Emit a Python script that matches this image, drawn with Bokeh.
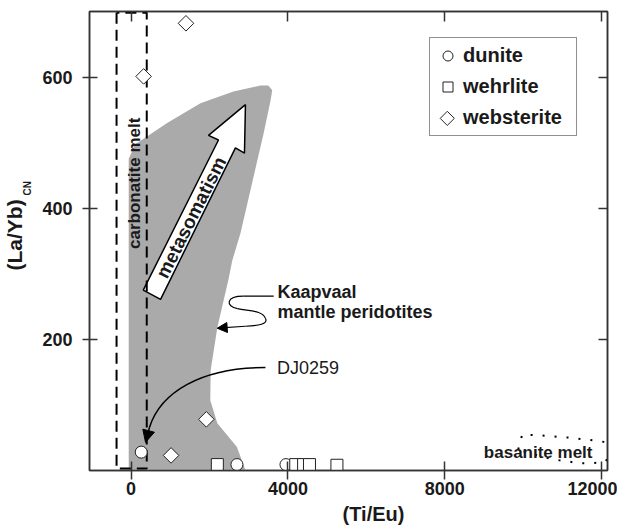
import math
from bokeh.plotting import figure
from bokeh.models import (Range1d, LinearAxis, FixedTicker, Legend, LegendItem,
                          Label, Arrow, NormalHead, Title)
from bokeh.embed import file_html
from bokeh.resources import INLINE

# ---------------- data ----------------
dunite_x = [260, 2700, 3950]
dunite_y = [28, 9, 9]
wehrlite_x = [2200, 4200, 4400, 4550, 5250]
wehrlite_y = [9, 9, 9, 9, 8]
websterite_x = [1400, 320, 1920, 1020]
websterite_y = [682, 601, 78, 23]

# Kaapvaal mantle peridotite field
kaap_x = [-60, -60, 100, 320, 920, 1770, 2610, 3300, 3500, 3600, 3560, 3380, 3120,
          2790, 2580, 2480, 2200, 2030, 2020, 2200, 2700, 2920]
kaap_y = [0, 475, 497, 506, 530, 560, 578, 587, 587, 580, 565, 514, 447,
          362, 320, 290, 218, 153, 107, 72, 36, 0]

# carbonatite melt field (dashed)
carb_x = [-370, -370, 400, 400, -370]
carb_y = [698, 3, 3, 698, 698]

# basanite melt field (dotted)
bas_x = [9873, 9975, 10560, 11197, 11783, 12140, 12471, 12038, 11452, 10764, 10178, 9873]
bas_y = [32, 55, 53, 50, 46, 43, 31, 12, 11, 17, 26, 32]

# metasomatism block arrow
meta_x = [311, 2229, 1975, 2917, 2892, 2662, 752]
meta_y = [275, 504, 511, 558, 484, 492, 261]

x_ticks = [0, 4000, 8000, 12000]
y_ticks = [200, 400, 600]

FONT = "Liberation Sans"
DARK = "#1a1a1a"
NBSP = "\u00a0"

p = figure(width=617, height=529, output_backend="svg", toolbar_location=None,
           x_range=Range1d(-1060, 12150), y_range=Range1d(0, 700),
           min_border_left=89, min_border_right=10, min_border_top=11,
           min_border_bottom=59, x_axis_location=None, y_axis_location=None)
p.grid.visible = False
p.outline_line_color = "#333333"
p.outline_line_width = 1.5
p.background_fill_color = "white"
p.border_fill_color = "white"


def make_axis(ticks, labels, tin, tout, standoff):
    ax = LinearAxis(ticker=FixedTicker(ticks=ticks))
    ax.axis_line_color = "#333333"
    ax.axis_line_width = 1.5
    ax.major_tick_line_color = "#333333"
    ax.major_tick_line_width = 1.5
    ax.major_tick_in = tin
    ax.major_tick_out = tout
    ax.minor_tick_line_color = None
    if labels:
        ax.major_label_text_font = FONT
        ax.major_label_text_font_style = "bold"
        ax.major_label_text_font_size = "18px"
        ax.major_label_text_color = DARK
        ax.major_label_standoff = standoff
    else:
        ax.major_label_text_font_size = "0px"
        ax.major_label_text_color = None
        ax.major_label_standoff = 0
    return ax


xax = make_axis(x_ticks, True, 9, 9, 2)
xax.axis_label = NBSP * 9 + "(Ti/Eu)"
xax.axis_label_text_font = FONT
xax.axis_label_text_font_style = "bold"
xax.axis_label_text_font_size = "20px"
xax.axis_label_text_color = DARK
xax.axis_label_standoff = 5
p.add_layout(xax, "below")

yax = make_axis(y_ticks, True, 8, 7, 10)
yax.axis_label = NBSP * 38 + "CN"
yax.axis_label_text_font = FONT
yax.axis_label_text_font_style = "bold"
yax.axis_label_text_font_size = "10px"
yax.axis_label_text_color = DARK
yax.axis_label_standoff = 6
p.add_layout(yax, "left")

p.add_layout(Title(text="(La/Yb)", align="left", offset=200, vertical_align="bottom",
                   standoff=-12, text_font=FONT, text_font_style="bold",
                   text_font_size="21px", text_color=DARK), "left")

p.add_layout(make_axis(x_ticks, False, 10, 0, 0), "above")
p.add_layout(make_axis(y_ticks, False, 9, 0, 0), "right")

# fields
p.patch(kaap_x, kaap_y, fill_color="#aaaaaa", line_color=None)
p.patch(meta_x, meta_y, fill_color="white", line_color="black", line_width=1.5)
p.line(carb_x, carb_y, line_color="black", line_width=2, line_dash="11 6")
p.line(bas_x, bas_y, line_color="black", line_width=2, line_dash="2 10")

# samples
r_dun = p.scatter(dunite_x, dunite_y, marker="circle", size=12,
                  fill_color="white", line_color="#222222", line_width=1)
r_weh = p.scatter(wehrlite_x, wehrlite_y, marker="square", size=12,
                  fill_color="white", line_color="#222222", line_width=1)
r_web = p.scatter(websterite_x, websterite_y, marker="square", angle=math.pi / 4,
                  size=11, fill_color="white", line_color="#222222", line_width=1)

# annotation curves
p.line([3638, 2866], [266, 266], line_color="black", line_width=1.2)
p.bezier(x0=[2866, 2713, 3427], y0=[266, 247, 232],
         x1=[2713, 3427, 2917], y1=[247, 232, 220],
         cx0=[2408, 3045, 3503], cy0=[266, 243, 223],
         cx1=[2408, 3350, 3248], cy1=[250, 244, 221],
         line_color="black", line_width=1.2)
p.add_layout(Arrow(x_start=2917, y_start=220, x_end=2196, y_end=217,
                   line_color="black", line_width=1.2,
                   end=NormalHead(size=10, fill_color="black", line_color="black")))

p.bezier(x0=[3427], y0=[157], x1=[471], y1=[66], cx0=[1771], cy0=[157],
         cx1=[752], cy1=[119], line_color="black", line_width=1.5)
p.add_layout(Arrow(x_start=471, y_start=66, x_end=369, y_end=43,
                   line_color="black", line_width=1.5,
                   end=NormalHead(size=12, fill_color="black", line_color="black")))


def lab(x, y, text, size, bold=True, angle=0.0, align="center", baseline="middle"):
    p.add_layout(Label(x=x, y=y, text=text, text_font=FONT,
                       text_font_style="bold" if bold else "normal",
                       text_font_size=size, text_color=DARK, angle=angle,
                       text_align=align, text_baseline=baseline))


lab(1533, 386, "metasomatism", "19px", angle=math.radians(63.3))
lab(89, 438, "carbonatite melt", "17px", angle=math.pi / 2)
lab(3732, 272, "Kaapvaal", "18px", align="left", baseline="alphabetic")
lab(3732, 241, "mantle peridotites", "18px", align="left", baseline="alphabetic")
lab(3720, 157, "DJ0259", "18px", bold=False, align="left")
lab(10382, 28, "basanite melt", "17px")

# legend (websterite key symbol drawn rotated beside its entry)
r_web_key = p.scatter([], [], marker="square", fill_alpha=0, line_alpha=0)
legend = Legend(items=[LegendItem(label="dunite", renderers=[r_dun]),
                       LegendItem(label="wehrlite", renderers=[r_weh]),
                       LegendItem(label="websterite", renderers=[r_web_key])],
                location=(340, 334), padding=5, spacing=6, margin=0,
                glyph_width=25, glyph_height=25, label_standoff=3,
                label_width=108, label_height=25,
                label_text_font=FONT, label_text_font_style="bold",
                label_text_font_size="20px", label_text_color=DARK,
                border_line_color="#222222", border_line_width=1,
                background_fill_alpha=0)
p.add_layout(legend)
p.scatter([8064], [537], marker="square", angle=math.pi / 4, size=10,
          fill_color="white", line_color="#222222", line_width=1)

open("out.html", "w").write(file_html(p, INLINE))
